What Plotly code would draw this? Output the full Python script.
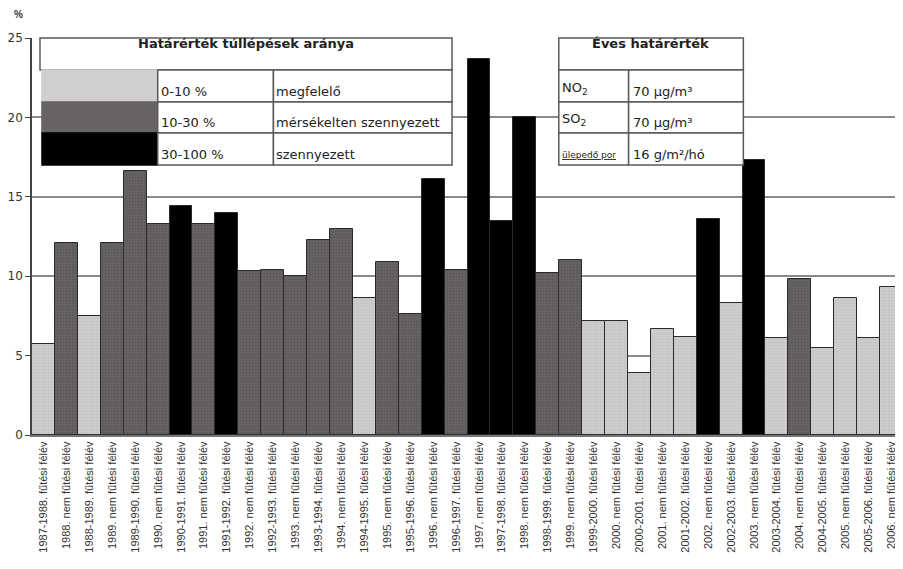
import plotly.graph_objects as go

categories = [
    "1987-1988. fűtési félév", "1988. nem fűtési félév",
    "1988-1989. fűtési félév", "1989. nem fűtési félév",
    "1989-1990. fűtési félév", "1990. nem fűtési félév",
    "1990-1991. fűtési félév", "1991. nem fűtési félév",
    "1991-1992. fűtési félév", "1992. nem fűtési félév",
    "1992-1993. fűtési félév", "1993. nem fűtési félév",
    "1993-1994. fűtési félév", "1994. nem fűtési félév",
    "1994-1995. fűtési félév", "1995. nem fűtési félév",
    "1995-1996. fűtési félév", "1996. nem fűtési félév",
    "1996-1997. fűtési félév", "1997. nem fűtési félév",
    "1997-1998. fűtési félév", "1998. nem fűtési félév",
    "1998-1999. fűtési félév", "1999. nem fűtési félév",
    "1999-2000. fűtési félév", "2000. nem fűtési félév",
    "2000-2001. fűtési félév", "2001. nem fűtési félév",
    "2001-2002. fűtési félév", "2002. nem fűtési félév",
    "2002-2003. fűtési félév", "2003. nem fűtési félév",
    "2003-2004. fűtési félév", "2004. nem fűtési félév",
    "2004-2005. fűtési félév", "2005. nem fűtési félév",
    "2005-2006. fűtési félév", "2006. nem fűtési félév",
]
values = [
    5.7, 12.1, 7.5, 12.1, 16.6, 13.3, 14.4, 13.3, 14.0, 10.3,
    10.4, 10.0, 12.3, 13.0, 8.6, 10.9, 7.6, 16.1, 10.4, 23.7,
    13.5, 20.0, 10.2, 11.0, 7.2, 7.2, 3.9, 6.7, 6.2, 13.6,
    8.3, 17.3, 6.1, 9.8, 5.5, 8.6, 6.1, 9.3,
]
# 0 = megfelelő, 1 = mérsékelten szennyezett, 2 = szennyezett
classes = [
    0, 1, 0, 1, 1, 1, 2, 1, 2, 1,
    1, 1, 1, 1, 0, 1, 1, 2, 1, 2,
    2, 2, 1, 1, 0, 0, 0, 0, 0, 2,
    0, 2, 0, 1, 0, 0, 0, 0,
]
y_ticks = [0, 5, 10, 15, 20, 25]

class_ranges = ["0-10 %", "10-30 %", "30-100 %"]
class_names = ["megfelelő", "mérsékelten szennyezett", "szennyezett"]
limit_pollutants = ["NO<sub>2</sub>", "SO<sub>2</sub>", "<span style='font-size:9px'><u>ülepedő por</u></span>"]
limit_values = ["70 µg/m³", "70 µg/m³", "16 g/m²/hó"]

FONT = "Liberation Sans, Arial, sans-serif"
TFONT = "DejaVu Sans, Liberation Sans, sans-serif"
fills = ["#d0cfce", "#676463", "#000000"]
dots = ["#b5b4b3", "#4a4747", "#000000"]

# the page body adds an 8px margin, so the figure is shifted by that much
OFF = 8
# plot area in window pixels: x 30..903, y 38..435
L, R, T, B = 30, 903, 38, 435


def px(x):
    return (x - L) / (R - L)


def py(y):
    return (B - y) / (B - T)


fig = go.Figure()
for k in range(3):
    fig.add_trace(
        go.Bar(
            x=categories,
            y=[v if c == k else None for v, c in zip(values, classes)],
            marker=dict(
                color=fills[k],
                line=dict(color="#2a2a2a", width=1),
                pattern=dict(shape="." if k < 2 else "", fgcolor=dots[k], size=3, solidity=0.4),
            ),
            showlegend=False,
        )
    )

shapes = []
annotations = []


def box(x0, y0, x1, y1, fill="white", line="#5a5a5a"):
    shapes.append(dict(type="rect", xref="paper", yref="paper",
                       x0=px(x0), x1=px(x1), y0=py(y0), y1=py(y1),
                       fillcolor=fill, line=dict(color=line, width=1.5), layer="above"))


def text(x, y, s, size=13, bold=False, anchor="left"):
    annotations.append(dict(xref="paper", yref="paper", x=px(x), y=py(y), text=f"<b>{s}</b>" if bold else s,
                            showarrow=False, xanchor=anchor, yanchor="bottom",
                            font=dict(family=TFONT, size=size, color="#222")))


# table 1
box(38, 38, 451, 70)
text(244, 53, "Határérték túllépések aránya", size=13, bold=True, anchor="center")
rows = [(70, 102), (102, 133), (133, 165)]
for i, (r0, r1) in enumerate(rows):
    box(40, r0, 156, r1, fill=fills[i], line=fills[i] if i < 2 else "#000")
    box(156, r0, 272, r1)
    box(272, r0, 451, r1)
    text(157, r1 - 1, class_ranges[i])
    text(273, r1 - 1, class_names[i])

# table 2
box(558, 38, 743, 70)
text(650, 53, "Éves határérték", size=13, bold=True, anchor="center")
for i, (r0, r1) in enumerate(rows):
    box(558, r0, 628, r1)
    box(628, r0, 743, r1)
    text(559, r1 - 3, limit_pollutants[i])
    text(630, r1 - 1, limit_values[i])

annotations.append(dict(xref="paper", yref="paper", x=px(10), y=py(22), text="<b>%</b>", showarrow=False,
                        xanchor="left", yanchor="bottom", font=dict(family=FONT, size=10, color="#333")))

fig.update_layout(
    width=903 - OFF,
    height=569 - OFF,
    margin=dict(l=L - OFF, r=0, t=T - OFF, b=569 - B),
    barmode="overlay",
    bargap=0,
    plot_bgcolor="white",
    paper_bgcolor="white",
    font=dict(family=FONT, color="#333"),
    shapes=shapes,
    annotations=annotations,
)
fig.update_yaxes(
    range=[0, 25],
    tickvals=y_ticks,
    showgrid=True,
    gridcolor="#8a8a8a",
    gridwidth=1.5,
    showline=True,
    linecolor="#444",
    linewidth=1.5,
    ticks="outside",
    ticklen=5,
    tickcolor="#444",
    tickfont=dict(family=TFONT, size=12, color="#333"),
    zeroline=False,
)
fig.update_xaxes(
    showline=True,
    linecolor="#777",
    linewidth=2,
    tickangle=-90,
    tickfont=dict(size=11, color="#333"),
    ticks="",
    range=[-0.5, len(categories) - 0.5],
)

fig.write_html("out.html")
